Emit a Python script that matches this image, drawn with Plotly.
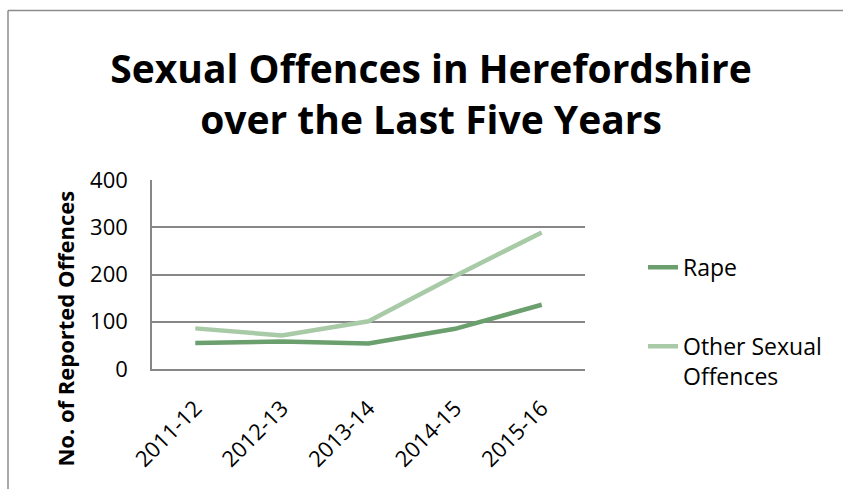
import plotly.graph_objects as go

categories = ["2011-12", "2012-13", "2013-14", "2014-15", "2015-16"]
rape = [55, 58, 54, 85, 136]
other = [86, 71, 101, 197, 289]
y_ticks = [0, 100, 200, 300, 400]

FONT = "Open Sans"
fig = go.Figure()
fig.add_trace(go.Scatter(x=categories, y=rape, mode="lines", name="Rape",
                         legendgroup="a",
                         line=dict(color="#6B9F6E", width=4.5)))
fig.add_trace(go.Scatter(x=categories, y=other, mode="lines",
                         name="Other Sexual<br>Offences", legendgroup="b",
                         line=dict(color="#A8CAA6", width=4.5)))

L, R, T, B = 152, 258, 180, 119.5
W, H = 843, 489
pw, ph = W - L - R, H - T - B

def px(xp):
    return (xp - L) / pw

def py(yp):
    return (H - B - yp) / ph

fig.update_layout(
    width=W, height=H,
    margin=dict(l=L, r=R, t=T, b=B, autoexpand=False),
    paper_bgcolor="white", plot_bgcolor="white",
    font=dict(family=FONT, color="black"),
    title=dict(text="<b>Sexual Offences in Herefordshire<br>over the Last Five Years</b>",
               x=431 / W, xanchor="center", xref="container",
               y=1 - 83 / H, yanchor="top", yref="container",
               font=dict(size=39, family=FONT, color="black")),
    showlegend=True,
    legend=dict(x=px(643), y=py(246), xanchor="left", yanchor="top",
                font=dict(size=23, family=FONT, color="black"),
                tracegroupgap=46, valign="top",
                bgcolor="rgba(0,0,0,0)"),
    xaxis=dict(type="category", range=[-0.5, 4.5], tickangle=-45, showgrid=False,
               showline=True, linecolor="#878787", linewidth=1.5,
               ticks="", tickfont=dict(size=22, family=FONT),
               ticklabelstandoff=16,
               zeroline=False, fixedrange=True, automargin=False),
    yaxis=dict(range=[0, 400], tickvals=y_ticks, showgrid=True,
               gridcolor="#878787", gridwidth=1.5,
               showline=True, linecolor="#878787", linewidth=1.5,
               ticks="", tickfont=dict(size=22, family=FONT),
               ticklabelstandoff=18,
               zeroline=False, fixedrange=True, automargin=False),
    annotations=[
        dict(text="<b>No. of Reported Offences</b>", textangle=-90,
             xref="paper", yref="paper", x=px(65), y=py(329),
             xanchor="center", yanchor="middle", showarrow=False,
             font=dict(size=22, family=FONT, color="black")),
    ],
    shapes=[
        dict(type="line", xref="paper", yref="paper",
             x0=px(8), x1=px(860), y0=py(10), y1=py(10),
             line=dict(color="#8C8C8C", width=1.5)),
        dict(type="line", xref="paper", yref="paper",
             x0=px(8), x1=px(8), y0=py(10), y1=py(500),
             line=dict(color="#8C8C8C", width=1.5)),
    ],
)

fig.write_html("out.html")
